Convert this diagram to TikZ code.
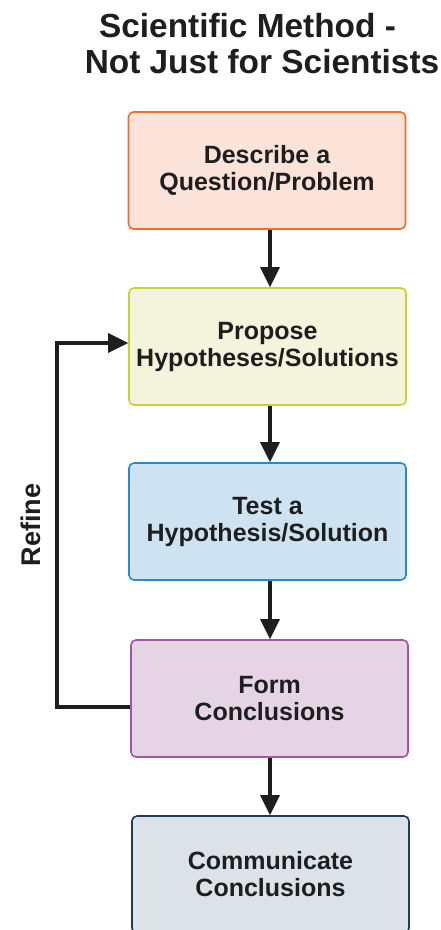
\documentclass[tikz,border=0pt]{standalone}
\usepackage{fontspec}
\setmainfont{Liberation Sans}
\usetikzlibrary{arrows.meta}

\definecolor{qfill}{HTML}{FCE3D9}\definecolor{qline}{HTML}{F26B2B}
\definecolor{hfill}{HTML}{F4F4DD}\definecolor{hline}{HTML}{C9D22E}
\definecolor{tfill}{HTML}{CDE3F1}\definecolor{tline}{HTML}{2B88CC}
\definecolor{ffill}{HTML}{E5D4E4}\definecolor{fline}{HTML}{A255A4}
\definecolor{cfill}{HTML}{DCE3E8}\definecolor{cline}{HTML}{1F3B61}
\definecolor{ink}{HTML}{1E1E1E}

\tikzset{
  stepbox/.style={draw, line width=1.6pt, rounded corners=5pt,
    minimum width=277pt, minimum height=117pt, inner sep=0pt,
    align=center, font=\fontsize{25}{27}\selectfont\bfseries, text=ink},
  flow/.style={draw=ink, line width=3.2pt,
    -{Triangle[length=20pt,width=19pt]}},
  plain/.style={draw=ink, line width=3.2pt}
}

\begin{document}
\begin{tikzpicture}[x=1pt,y=-1pt]
  \clip (0,0) rectangle (441,930);
  \fill[white] (0,0) rectangle (441,930);

  % title
  \node[align=center, inner sep=0pt, text=ink,
        font=\fontsize{33.4}{36}\selectfont\bfseries] (title) at (262,44)
    {Scientific Method -\hspace*{29pt}\\Not Just for Scientists};

  % the five steps
  \node[stepbox, fill=qfill, draw=qline] (b1) at (267,170.5)
    {Describe a\\Question/Problem};
  \node[stepbox, fill=hfill, draw=hline] (b2) at (267.5,346.5)
    {Propose\\Hypotheses/Solutions};
  \node[stepbox, fill=tfill, draw=tline] (b3) at (267.5,521.5)
    {Test a\\Hypothesis/Solution};
  \node[stepbox, fill=ffill, draw=fline] (b4) at (269.5,698.5)
    {Form\\Conclusions};
  \node[stepbox, fill=cfill, draw=cline] (b5) at (270.5,874.5)
    {Communicate\\Conclusions};

  % vertical flow
  \coordinate (axis) at (270,0);
  \draw[flow] (b1.south -| axis) -- (b2.north -| axis);
  \draw[flow] (b2.south -| axis) -- (b3.north -| axis);
  \draw[flow] (b3.south -| axis) -- (b4.north -| axis);
  \draw[flow] (b4.south -| axis) -- (b5.north -| axis);

  % refine loop back to the hypotheses
  \coordinate (loopB) at (57,707);
  \coordinate (loopT) at (57,343);
  \draw[flow, line join=miter] (b4.west |- loopB) -- (loopB) -- (loopT)
    -- (b2.west |- loopT);
  \node[rotate=90, inner sep=0pt, text=ink,
        font=\fontsize{27}{30}\selectfont\bfseries] (refine) at (31,525) {Refine};
\end{tikzpicture}
\end{document}
